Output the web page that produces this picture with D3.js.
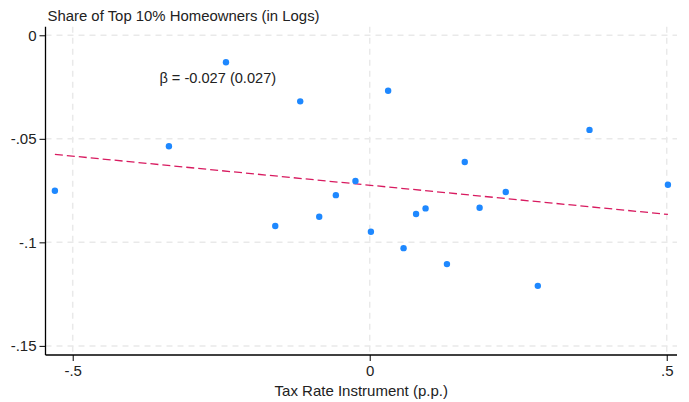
<!DOCTYPE html>
<html><head><meta charset="utf-8">
<script src="https://cdn.jsdelivr.net/npm/d3@7"></script>
<style>
html,body{margin:0;padding:0;background:#fff;}
text{font-family:"Liberation Sans",Arial,sans-serif;fill:#222;}
</style></head>
<body>
<svg id="chart" width="689" height="402"></svg>
<script>
// Data
const xValues = [-0.530, -0.338, -0.242, -0.117, -0.159, -0.085, -0.057, -0.024, 0.031, 0.002,
                 0.057, 0.078, 0.094, 0.130, 0.160, 0.185, 0.229, 0.283, 0.370, 0.502];
const yValues = [-0.0751, -0.0536, -0.0130, -0.0319, -0.0921, -0.0876, -0.0772, -0.0704, -0.0268, -0.0949,
                 -0.1028, -0.0863, -0.0836, -0.1105, -0.0612, -0.0833, -0.0757, -0.1210, -0.0457, -0.0722];
const fitIntercept = [-0.0724];
const fitSlope = [-0.0281];
const xTicks = [-0.5, 0, 0.5];
const xTickLabels = ["-.5", "0", ".5"];
const yTicks = [0, -0.05, -0.1, -0.15];
const yTickLabels = ["0", "-.05", "-.1", "-.15"];
const titleText = "Share of Top 10% Homeowners (in Logs)";
const xTitle = "Tax Rate Instrument (p.p.)";
const annotation = "\u03B2 = -0.027 (0.027)";
const annotationPos = [-0.354, -0.0230];

(function () {
const svg = d3.select("#chart");
const mLeft = 45.5, mRight = 677, mTop = 26.7, mBottom = 355;
const x = d3.scaleLinear().domain([-0.5458, 0.5173]).range([mLeft, mRight]);
const y = d3.scaleLinear().domain([-0.1544, 0.00415]).range([mBottom, mTop]);

// grid
const grid = svg.append("g").attr("stroke", "#e9e9e9").attr("stroke-width", 1.5).attr("stroke-dasharray", "6,5");
grid.selectAll("line.h").data(yTicks).enter().append("line").attr("class", "h")
  .attr("x1", mLeft).attr("x2", mRight).attr("y1", d => y(d)).attr("y2", d => y(d));
grid.selectAll("line.v").data(xTicks).enter().append("line").attr("class", "v")
  .attr("y1", mTop).attr("y2", mBottom).attr("x1", d => x(d)).attr("x2", d => x(d));

// axes
const xAxis = d3.axisBottom(x).tickValues(xTicks).tickFormat((d, i) => xTickLabels[i]).tickSize(6).tickPadding(4).tickSizeOuter(0);
const yAxis = d3.axisLeft(y).tickValues(yTicks).tickFormat((d, i) => yTickLabels[i]).tickSize(6).tickPadding(3).tickSizeOuter(0);
const gx = svg.append("g").attr("transform", `translate(0,${mBottom})`).call(xAxis);
const gy = svg.append("g").attr("transform", `translate(${mLeft},0)`).call(yAxis);
[gx, gy].forEach(g => {
  g.select(".domain").attr("stroke", "#000").attr("stroke-width", 1.3);
  g.selectAll(".tick line").attr("stroke", "#000").attr("stroke-width", 1);
  g.selectAll(".tick text").style("font-size", "15px").style("font-family", "Liberation Sans, Arial, sans-serif").attr("fill", "#222");
});
gx.select(".domain").attr("d", `M${mLeft},0H${mRight}`);
gy.select(".domain").attr("d", `M0,${mBottom}V${mTop}`);

// fit line
const xExt = d3.extent(xValues);
svg.append("line")
  .attr("x1", x(xExt[0])).attr("y1", y(fitIntercept[0] + fitSlope[0] * xExt[0]))
  .attr("x2", x(xExt[1])).attr("y2", y(fitIntercept[0] + fitSlope[0] * xExt[1]))
  .attr("stroke", "#d81b60").attr("stroke-width", 1.3).attr("stroke-dasharray", "8,4");

// points
svg.append("g").selectAll("circle").data(xValues).enter().append("circle")
  .attr("cx", d => x(d)).attr("cy", (d, i) => y(yValues[i])).attr("r", 3.2)
  .attr("fill", "#1e88ff");

// texts
svg.append("text").attr("x", 47.5).attr("y", 20.5).style("font-size", "14.9px").text(titleText);
svg.append("text").attr("x", x(annotationPos[0])).attr("y", y(annotationPos[1])).style("font-size", "14.6px").text(annotation);
svg.append("text").attr("x", (mLeft + mRight) / 2).attr("y", 395.5).attr("text-anchor", "middle").style("font-size", "15px").text(xTitle);
})();
</script>
</body></html>
